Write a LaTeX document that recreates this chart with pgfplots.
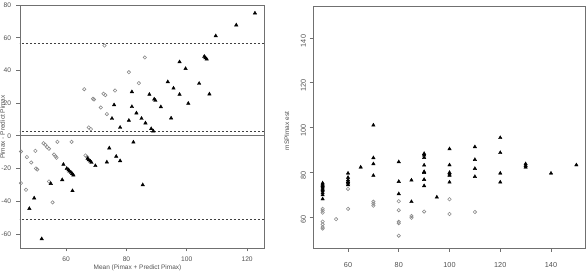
\documentclass[border=0pt]{standalone}
\usepackage{fontspec}
\setmainfont{Liberation Sans}
\usepackage{pgfplots}
\pgfplotsset{compat=1.18}
\definecolor{axgray}{HTML}{707070}
\definecolor{txtgray}{HTML}{505050}
\definecolor{ptgray}{HTML}{8A8A8A}
\pgfplotsset{rstyle/.style={
  scale only axis,
  axis line style={axgray,line width=0.9bp},
  tick style={axgray,line width=0.7bp},
  major tick length=3.5bp,
  tick align=outside,
  xtick pos=bottom, ytick pos=left,
  ticklabel style={text=txtgray},
  /pgf/number format/assume math mode=true,
  clip=true,
}}
\begin{document}
\begin{tikzpicture}
\path[use as bounding box] (0,0) rectangle (588bp,271bp);
% ---------------- Left panel
\begin{axis}[rstyle,
  at={(20bp,23bp)}, anchor=south west,
  width=244bp, height=243bp,
  xmin=44.7, xmax=125.6, ymin=-68.6, ymax=80,
  xtick={60,80,100,120}, xticklabels={60,80,100,120},
  ytick={-60,-40,-20,0,20,40,60,80},
  yticklabels={-60,-40,-20,0,20,40,60,80},
  ticklabel style={font=\fontsize{6.7}{8}\selectfont},
  xticklabel style={yshift=-1.5bp},
  yticklabel style={xshift=-2bp},
]
\addplot[axgray, line width=0.8bp] coordinates {(40,0) (130,0)};
\addplot[black!75, line width=0.6bp, dash pattern=on 2.5bp off 1.5bp] coordinates {(40,56.8) (130,56.8)};
\addplot[black!75, line width=0.6bp, dash pattern=on 2.5bp off 1.5bp] coordinates {(40,3.0) (130,3.0)};
\addplot[black!75, line width=0.6bp, dash pattern=on 2.5bp off 1.5bp] coordinates {(40,-50.8) (130,-50.8)};
\addplot[only marks, mark=o, mark size=1.7bp, ptgray, mark options={line width=0.6bp}] coordinates {
(45.0,-9.6) (45.0,-28.9) (47.0,-13.0) (46.7,-33.0) (48.4,-16.3) (49.8,-9.2)
(50.0,-20.0) (50.4,-20.6) (52.5,-4.5) (53.1,-5.5) (53.7,-6.9) (54.3,-7.9)
(54.3,-27.9) (55.5,-40.7) (56.0,-11.4) (56.5,-12.6) (56.8,-13.4) (57.1,-3.7)
(61.8,-3.7) (66.4,-12.0) (67.0,-13.0) (66.0,28.5) (68.9,22.6) (69.2,22.2)
(72.4,25.7) (73.0,24.9) (71.5,17.3) (73.5,13.3) (76.2,27.7) (67.5,5.1)
(68.2,4.1) (72.7,55.2) (80.8,38.9) (84.1,32.2) (86.1,47.9)
};
\addplot[only marks, mark=triangle*, mark size=2bp, black] coordinates {
(47.8,-44.5) (49.4,-38.1) (51.9,-63.0) (54.9,-29.2) (58.7,-26.9) (59.1,-17.5)
(60.2,-20.0) (60.8,-20.8) (61.1,-21.6) (61.6,-22.4) (62.0,-23.2) (62.4,-24.0)
(62.1,-33.6) (67.1,-13.9) (67.5,-14.7) (68.0,-15.5) (68.4,-16.3) (69.7,-18.3)
(73.5,-16.1) (74.3,-7.5) (76.6,-12.6) (77.9,-15.3) (82.3,-3.9) (85.4,-30.0)
(75.9,18.9) (75.2,10.6) (77.9,5.1) (81.8,26.9) (81.8,17.8) (80.8,9.4)
(83.3,13.9) (85.0,10.6) (86.3,7.8) (87.6,25.3) (89.2,22.4) (89.6,21.6)
(91.4,17.7) (94.8,10.8) (88.2,4.3) (88.9,2.9) (93.7,33.0) (95.6,29.1)
(97.6,25.3) (100.5,19.8) (97.6,45.2) (99.6,41.1) (104.1,32.0) (107.5,25.5)
(105.8,48.5) (106.2,47.7) (106.6,46.9) (109.6,61.1) (116.4,67.7) (122.6,75.0)
};
\end{axis}
\node[rotate=90, text=txtgray, font=\fontsize{6.5}{8}\selectfont] at (2.5bp,144bp) {Pimax - Predict Pimax};
\node[text=txtgray, font=\fontsize{6.5}{8}\selectfont] at (137.5bp,3.2bp) {Mean (Pimax + Predict Pimax)};
% ---------------- Right panel
\begin{axis}[rstyle,
  at={(313bp,23bp)}, anchor=south west,
  width=272bp, height=242bp,
  xmin=46.2, xmax=153.4, ymin=46.1, ymax=154.3,
  xtick={60,80,100,120,140}, xticklabels={60,80,100,120,140},
  ytick={60,80,100,120,140}, yticklabels={60,80,100,120,140},
  ticklabel style={font=\fontsize{7.3}{8}\selectfont},
  xticklabel style={yshift=-7bp},
  yticklabel style={rotate=90, anchor=south, xshift=-3bp},
]
\addplot[only marks, mark=o, mark size=1.7bp, ptgray, mark options={line width=0.6bp}] coordinates {
(50,63.6) (50,62.8) (50,61.9) (50,57.9) (50,56.7) (50,55.4) (50,54.8)
(55.3,59.0) (60,72.5) (60,63.6) (70,66.8) (70,65.9) (70,65.0)
(80,67.0) (80,63.0) (80,57.8) (80,57.2) (80,51.6) (85,60.4) (85,59.6)
(90,62.4) (100,67.9) (100,61.3) (110,62.2)
};
\addplot[only marks, mark=triangle*, mark size=2bp, black] coordinates {
(50,75.1) (50,74.5) (50,74.0) (50,73.4) (50,72.8) (50,72.2) (50,71.6) (50,70.7) (50,69.8) (50,68.0)
(60,79.5) (60,77.6) (60,76.5) (60,75.8) (60,75.1) (60,74.3)
(65,82.2)
(70,101.0) (70,86.4) (70,83.7) (70,78.5)
(80,84.6) (80,75.8) (80,70.3)
(85,76.4) (85,66.8)
(90,88.3) (90,87.6) (90,86.5) (90,83.1) (90,80.2) (90,79.8) (90,76.7) (90,73.9)
(95,68.8)
(100,90.4) (100,83.2) (100,79.8) (100,79.1) (100,78.5) (100,75.5)
(110,91.3) (110,85.6) (110,81.6) (110,78.0)
(120,95.4) (120,88.7) (120,79.5) (120,75.5)
(130,83.7) (130,82.9) (130,82.2)
(140,79.5)
(150,83.2)
};
\end{axis}
\node[rotate=90, text=txtgray, font=\fontsize{6.5}{8}\selectfont] at (287bp,140bp) {mSPImax est};
\end{tikzpicture}
\end{document}
